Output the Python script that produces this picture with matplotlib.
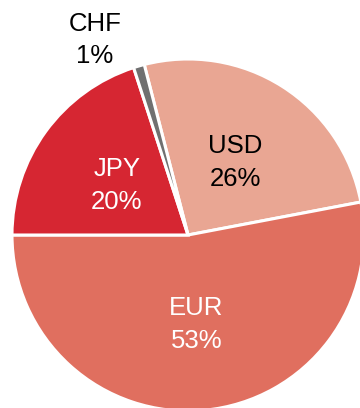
import matplotlib.pyplot as plt

plt.rcParams['font.family'] = ['Liberation Sans', 'DejaVu Sans']

# Reparto por divisa
divisas = ['USD', 'EUR', 'JPY', 'CHF']
porcentajes = [26, 53, 20, 1]
colores = ['#E9A693', '#E06F5F', '#D62632', '#707070']
color_texto = ['black', 'white', 'white', 'black']

etiquetas = [f'{d}\n{p}%' for d, p in zip(divisas, porcentajes)]

fig = plt.figure(figsize=(3.6, 4.08), dpi=100)
ax = fig.add_axes([0, 0, 1, 1])

wedges, textos = ax.pie(porcentajes, labels=etiquetas, colors=colores,
                        startangle=104.4, counterclock=False,
                        center=(188, 173), radius=176,
                        labeldistance=0.5,
                        wedgeprops=dict(edgecolor='white', linewidth=2.2),
                        textprops=dict(fontsize=18.5, ha='center', va='center',
                                       linespacing=1.45))

for t, c in zip(textos, color_texto):
    t.set_color(c)
    t.set_horizontalalignment('center')

# bajar un poco las etiquetas interiores
for t in textos[:3]:
    x, y = t.get_position()
    t.set_position((x, y - 2))

# CHF va fuera del pastel, encima de su porción
textos[3].set_position((95, 368))

ax.set_xlim(0, 360)
ax.set_ylim(0, 408)
ax.set_aspect('equal')
ax.axis('off')

fig.savefig('out.png', dpi=100)
